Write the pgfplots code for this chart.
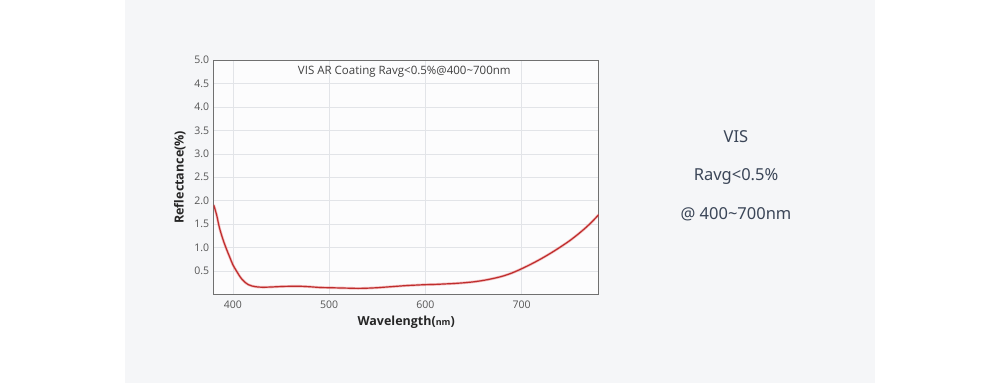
\documentclass[border=0pt]{standalone}
\usepackage{pgfplots}
\pgfplotsset{compat=1.18}
\usepackage{fontspec}
\setmainfont{Open Sans}
\newfontfamily\sidefont{Noto Sans}
\definecolor{panel}{HTML}{F5F6F8}
\definecolor{gridc}{HTML}{E2E4E8}
\definecolor{framec}{HTML}{707070}
\definecolor{tickc}{HTML}{555555}
\definecolor{curvec}{HTML}{E03535}
\definecolor{sidetext}{HTML}{3B4658}
\pgfplotstableread{
x y
380 1.91
383 1.70
386 1.42
390 1.15
394 0.93
397 0.78
400 0.63
404 0.49
408 0.36
412 0.27
416 0.21
420 0.18
426 0.16
432 0.155
440 0.16
450 0.17
460 0.175
470 0.175
480 0.165
490 0.15
500 0.145
510 0.14
520 0.135
530 0.13
540 0.135
550 0.145
560 0.16
570 0.175
580 0.19
590 0.20
600 0.21
610 0.215
620 0.225
630 0.235
640 0.25
650 0.27
660 0.30
670 0.34
680 0.39
690 0.46
700 0.55
710 0.65
720 0.76
730 0.88
740 1.01
750 1.15
760 1.31
770 1.49
780 1.70
}\curvedata
\begin{document}
\begin{tikzpicture}[x=1pt,y=1pt]
\fill[white] (0,0) rectangle (1000,383);
\fill[panel] (125,0) rectangle (874.5,383);
\begin{axis}[
  at={(213.7pt,88.5pt)}, anchor=south west,
  scale only axis, width=385pt, height=234.5pt,
  xmin=380, xmax=780, ymin=0, ymax=5,
  xtick={400,500,600,700},
  ytick={0.5,1,...,5},
  yticklabel style={/pgf/number format/fixed, /pgf/number format/fixed zerofill, /pgf/number format/precision=1, xshift=-1pt},
  /pgf/number format/assume math mode=true,
  major tick length=0pt,
  tick label style={font=\fontsize{10.5}{12}\selectfont, text=tickc},
  xticklabel style={yshift=-3pt},
  grid=major,
  major grid style={gridc, line width=0.6pt},
  axis line style={framec, line width=0.9pt},
  axis background/.style={fill=white!70!panel},
  xlabel={\textbf{Wavelength(}{\fontsize{9}{10}\selectfont\bfseries nm}\textbf{)}},
  xlabel style={font=\fontsize{12.5}{14}\selectfont, text=black!85},
  ylabel={\textbf{Reflectance(\%)}},
  ylabel style={font=\fontsize{12.5}{14}\selectfont, text=black!85, yshift=2pt},
  clip=true,
]
\addplot[curvec!80, line width=2.6pt, opacity=0.4, smooth] table[x=x,y=y] {\curvedata};
\addplot[curvec!85!black, line width=1.2pt, smooth] table[x=x,y=y] {\curvedata};
\node[font=\fontsize{11.5}{13}\selectfont, text=black!75, anchor=center] at (axis cs:578,4.75) {VIS AR Coating Ravg<0.5\%@400\textasciitilde700nm};
\end{axis}
\node[font=\sidefont\fontsize{16.5}{19}\selectfont, text=sidetext] at (736,383-137) {VIS};
\node[font=\sidefont\fontsize{16.5}{19}\selectfont, text=sidetext] at (736,383-176) {Ravg<0.5\%};
\node[font=\sidefont\fontsize{16.5}{19}\selectfont, text=sidetext] at (736,383-214) {@ 400\textasciitilde700nm};
\end{tikzpicture}
\end{document}
